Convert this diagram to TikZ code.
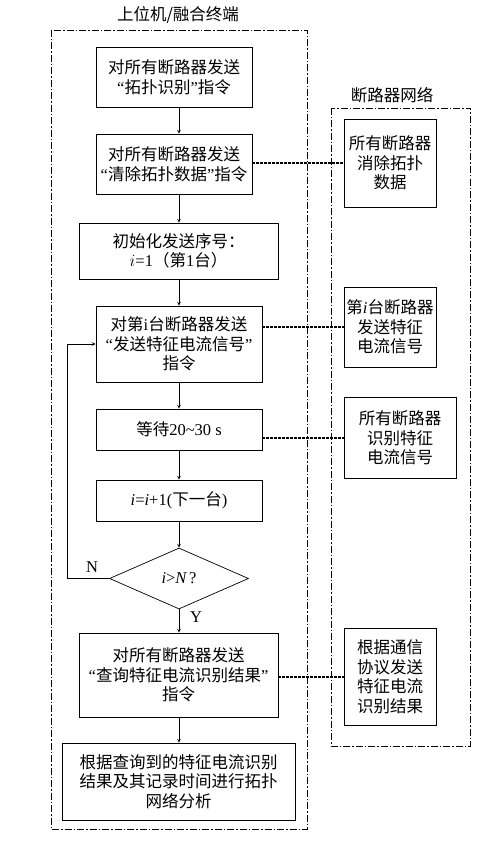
\documentclass[tikz,border=0pt]{standalone}
\usepackage{fontspec}
\setmainfont{Noto Sans CJK SC}
\newfontfamily\lat{Liberation Serif}
\usetikzlibrary{shapes.geometric, arrows}
\newcommand{\quo}[1]{{\lat “}#1{\lat ”}}
\tikzset{
    every node/.style={ % Text of all nodes
        font=\fontsize{16.5}{19.5}\selectfont,
        align=center,
        inner sep=0pt
    },
    box/.style={draw, line width=0.7pt}, % Process boxes
    decision/.style={draw, diamond, line width=0.7pt},
    flow/.style={ % Arrows of the flow chart
        draw,
        ->,>=stealth,
        line width=0.7pt
    },
    link/.style={draw, line width=1.3pt, dash pattern=on 2.5pt off 1.5pt}, % Host to breakers
    frame/.style={draw, line width=0.8pt, dash pattern=on 7pt off 2pt on 1.5pt off 2pt}
}
\begin{document}
\begin{tikzpicture}[x=1pt, y=-1pt]
    \useasboundingbox (0,0) rectangle (502,845);
    % frames
    \draw[frame] (51,30) rectangle (307,829);
    \draw[frame] (331,108) rectangle (470,746);
    \node (host) at (178,15) {上位机/融合终端};
    \node (net) at (392,95) {断路器网络};
    \coordinate (col) at (179,0);
    % host side
    \node[box, minimum width=156pt, minimum height=60pt] (b1) at (174,77) {对所有断路器发送\\\quo{拓扑识别}指令};
    \node[box, minimum width=156pt, minimum height=60pt] (b2) at (174,164) {对所有断路器发送\\\quo{清除拓扑数据}指令};
    \node[box, minimum width=199pt, minimum height=56pt] (b3) at (178.5,251) {初始化发送序号：\\$i${\lat =1}（第{\lat 1}台）};
    \node[box, minimum width=166pt, minimum height=76pt] (b4) at (179,344) {对第{\lat i}台断路器发送\\\quo{发送特征电流信号}\\指令};
    \node[box, minimum width=166pt, minimum height=41pt] (b5) at (179,429.5) {等待{\lat 20\textasciitilde30 s}};
    \node[box, minimum width=166pt, minimum height=41pt] (b6) at (179,500.5) {{\lat\itshape i}{\lat =}{\lat\itshape i}{\lat +1(}下一台{\lat )}};
    \node[decision, minimum width=139pt, minimum height=61pt] (dec) at (179,578.5) {{\lat\itshape i}{\lat >}{\lat\itshape N}{\lat\,?}};
    \node[box, minimum width=199pt, minimum height=84pt] (b7) at (178.5,675) {对所有断路器发送\\\quo{查询特征电流识别结果}\\指令};
    \node[box, minimum width=233pt, minimum height=77pt] (b8) at (178.5,781.5) {根据查询到的特征电流识别\\结果及其记录时间进行拓扑\\网络分析};
    % breaker side
    \node[box, minimum width=92pt, minimum height=88pt] (r1) at (390,163) {所有断路器\\消除拓扑\\数据};
    \node[box, minimum width=92pt, minimum height=80pt] (r2) at (390,327) {第{\lat\itshape i}台断路器\\发送特征\\电流信号};
    \node[box, minimum width=112pt, minimum height=81pt] (r3) at (400,438) {所有断路器\\识别特征\\电流信号};
    \node[box, minimum width=92pt, minimum height=97pt] (r4) at (390,677) {根据通信\\协议发送\\特征电流\\识别结果};
    % flow
    \draw[flow] (b1.south -| col) -- (b2.north -| col);
    \draw[flow] (b2.south -| col) -- (b3.north -| col);
    \draw[flow] (b3.south -| col) -- (b4.north -| col);
    \draw[flow] (b4.south -| col) -- (b5.north -| col);
    \draw[flow] (b5.south -| col) -- (b6.north -| col);
    \draw[flow] (b6.south -| col) -- (dec.north);
    \draw[flow] (dec.south) -- (b7.north -| col);
    \draw[flow] (b7.south -| col) -- (b8.north -| col);
    \draw[flow] (dec.west) -| ([xshift=-28pt]b4.west) -- (b4.west);
    \node (no) at (92,567) {\lat N};
    \node (yes) at (196,617) {\lat Y};
    % links
    \draw[link] (r1.west -| b2.east) -- (r1.west);
    \draw[link] (r2.west -| b4.east) -- (r2.west);
    \draw[link] (r3.west -| b5.east) -- (r3.west);
    \draw[link] (r4.west -| b7.east) -- (r4.west);
\end{tikzpicture}
\end{document}
